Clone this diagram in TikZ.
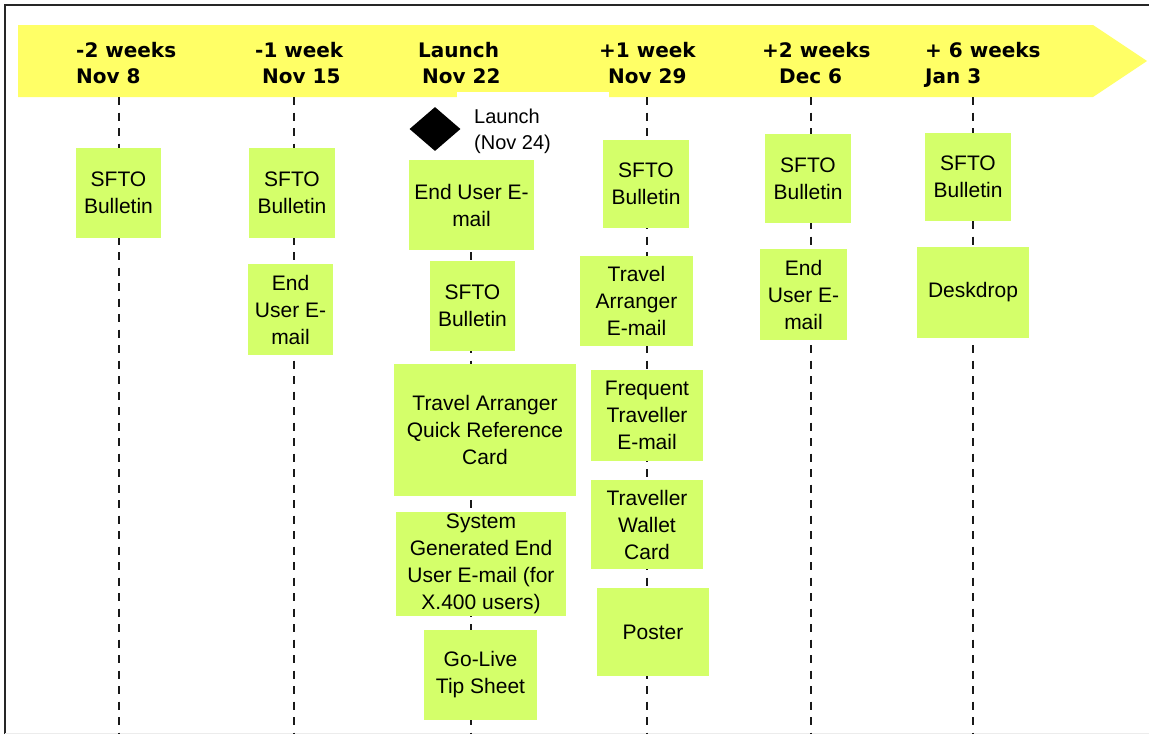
\documentclass[tikz,border=0pt]{standalone}
\usepackage{fontspec}
\setmainfont{Liberation Sans}
\newfontfamily\headfont{DejaVu Sans}
\usetikzlibrary{shapes.geometric}

\definecolor{bandeau}{RGB}{255,255,102}
\definecolor{vert}{RGB}{212,255,106}

\tikzset{
  support/.style={fill=vert, inner sep=0pt, align=center,
    font=\fontsize{21}{27}\selectfont},
  semaine/.style={anchor=base west, inner sep=0pt,
    font=\headfont\bfseries\fontsize{20}{24}\selectfont},
  jalon/.style={line width=2.2pt, gray!20!black, dash pattern=on 8pt off 7.5pt}
}

\begin{document}
\begin{tikzpicture}[x=1pt,y=-1pt]  % ------ Plan de communication -----------
    \useasboundingbox (0,0) rectangle (1149,734);

    % cadre
    \draw[line width=2pt, gray!30!black] (5,734) -- (5,5) -- (1149,5);
    \draw[gray!15] (5,733) -- (1149,733);

    % bandeau des semaines
    \fill[bandeau] (18,25) -- (1093,25) -- (1147,61) -- (1093,97) -- (18,97) -- cycle;

    \node[semaine] (s1) at (76,57) {-2 weeks};
    \node[semaine] (d1) at (76,83) {Nov 8};
    \node[semaine] (s2) at (255,57) {-1 week};
    \node[semaine] (d2) at (262,83) {Nov 15};
    \node[semaine] (s3) at (418,57) {Launch};
    \node[semaine] (d3) at (422,83) {Nov 22};
    \node[semaine] (s4) at (599,57) {+1 week};
    \node[semaine] (d4) at (608,83) {Nov 29};
    \node[semaine] (s5) at (762,57) {+2 weeks};
    \node[semaine] (d5) at (779,83) {Dec 6};
    \node[semaine] (s6) at (925,57) {+ 6 weeks};
    \node[semaine] (d6) at (925,83) {Jan 3};

    % lignes de temps
    \coordinate (h1) at (119,97);  \coordinate (b1) at (119,734);
    \coordinate (h2) at (294,97);  \coordinate (b2) at (294,734);
    \coordinate (h3) at (471,97);  \coordinate (b3) at (471,734);
    \coordinate (h4) at (647,97);  \coordinate (b4) at (647,734);
    \coordinate (h5) at (811,97);  \coordinate (b5) at (811,734);
    \coordinate (h6) at (973,97);  \coordinate (b6) at (973,734);

    \draw[jalon] (h1) -- (b1);
    \draw[jalon] (h2) -- (b2);
    \draw[jalon] (h3) -- (b3);
    \draw[jalon] (h4) -- (b4);
    \draw[jalon] (h5) -- (b5);
    \draw[jalon] (h6) -- (b6);

    % lancement
    \fill[white] (457,92) rectangle (609,160);
    \node[diamond, fill=black, inner sep=0pt, minimum width=51, minimum height=44]
        (losange) at (435,129) {};
    \node[anchor=base west, inner sep=0pt, align=left,
        font=\fontsize{20}{26}\selectfont] (lancement) at (474,149) {Launch\\(Nov 24)};

    % -2 weeks
    \node[support, minimum width=85, minimum height=90] (a1) at (118.5,193) {SFTO\\Bulletin};
    % -1 week
    \node[support, minimum width=86, minimum height=90] (b1s) at (292,193) {SFTO\\Bulletin};
    \node[support, minimum width=85, minimum height=91] (b2s) at (290.5,309.5) {End\\User E-\\mail};
    % launch
    \node[support, minimum width=125, minimum height=90] (c1) at (471.5,205) {End User E-\\mail};
    \node[support, minimum width=85, minimum height=90] (c2) at (472.5,306) {SFTO\\Bulletin};
    \node[support, minimum width=182, minimum height=132] (c3) at (485,430)
        {Travel Arranger\\Quick Reference\\Card};
    \node[support, minimum width=170, minimum height=104] (c4) at (481,564)
        {System\\Generated End\\User E-mail (for\\X.400 users)};
    \node[support, minimum width=113, minimum height=90] (c5) at (480.5,675) {Go-Live\\Tip Sheet};
    % +1 week
    \node[support, minimum width=86, minimum height=88] (e1) at (646,184) {SFTO\\Bulletin};
    \node[support, minimum width=113, minimum height=90] (e2) at (636.5,301) {Travel\\Arranger\\E-mail};
    \node[support, minimum width=112, minimum height=91] (e3) at (647,415.5) {Frequent\\Traveller\\E-mail};
    \node[support, minimum width=112, minimum height=89] (e4) at (647,524.5) {Traveller\\Wallet\\Card};
    \node[support, minimum width=112, minimum height=88] (e5) at (653,632) {Poster};
    % +2 weeks
    \node[support, minimum width=86, minimum height=89] (f1) at (808,178.5) {SFTO\\Bulletin};
    \node[support, minimum width=87, minimum height=91] (f2) at (803.5,294.5) {End\\User E-\\mail};
    % +6 weeks
    \node[support, minimum width=86, minimum height=88] (g1) at (968,177) {SFTO\\Bulletin};
    \node[support, minimum width=112, minimum height=91] (g2) at (973,292.5) {Deskdrop};
\end{tikzpicture}
\end{document}
